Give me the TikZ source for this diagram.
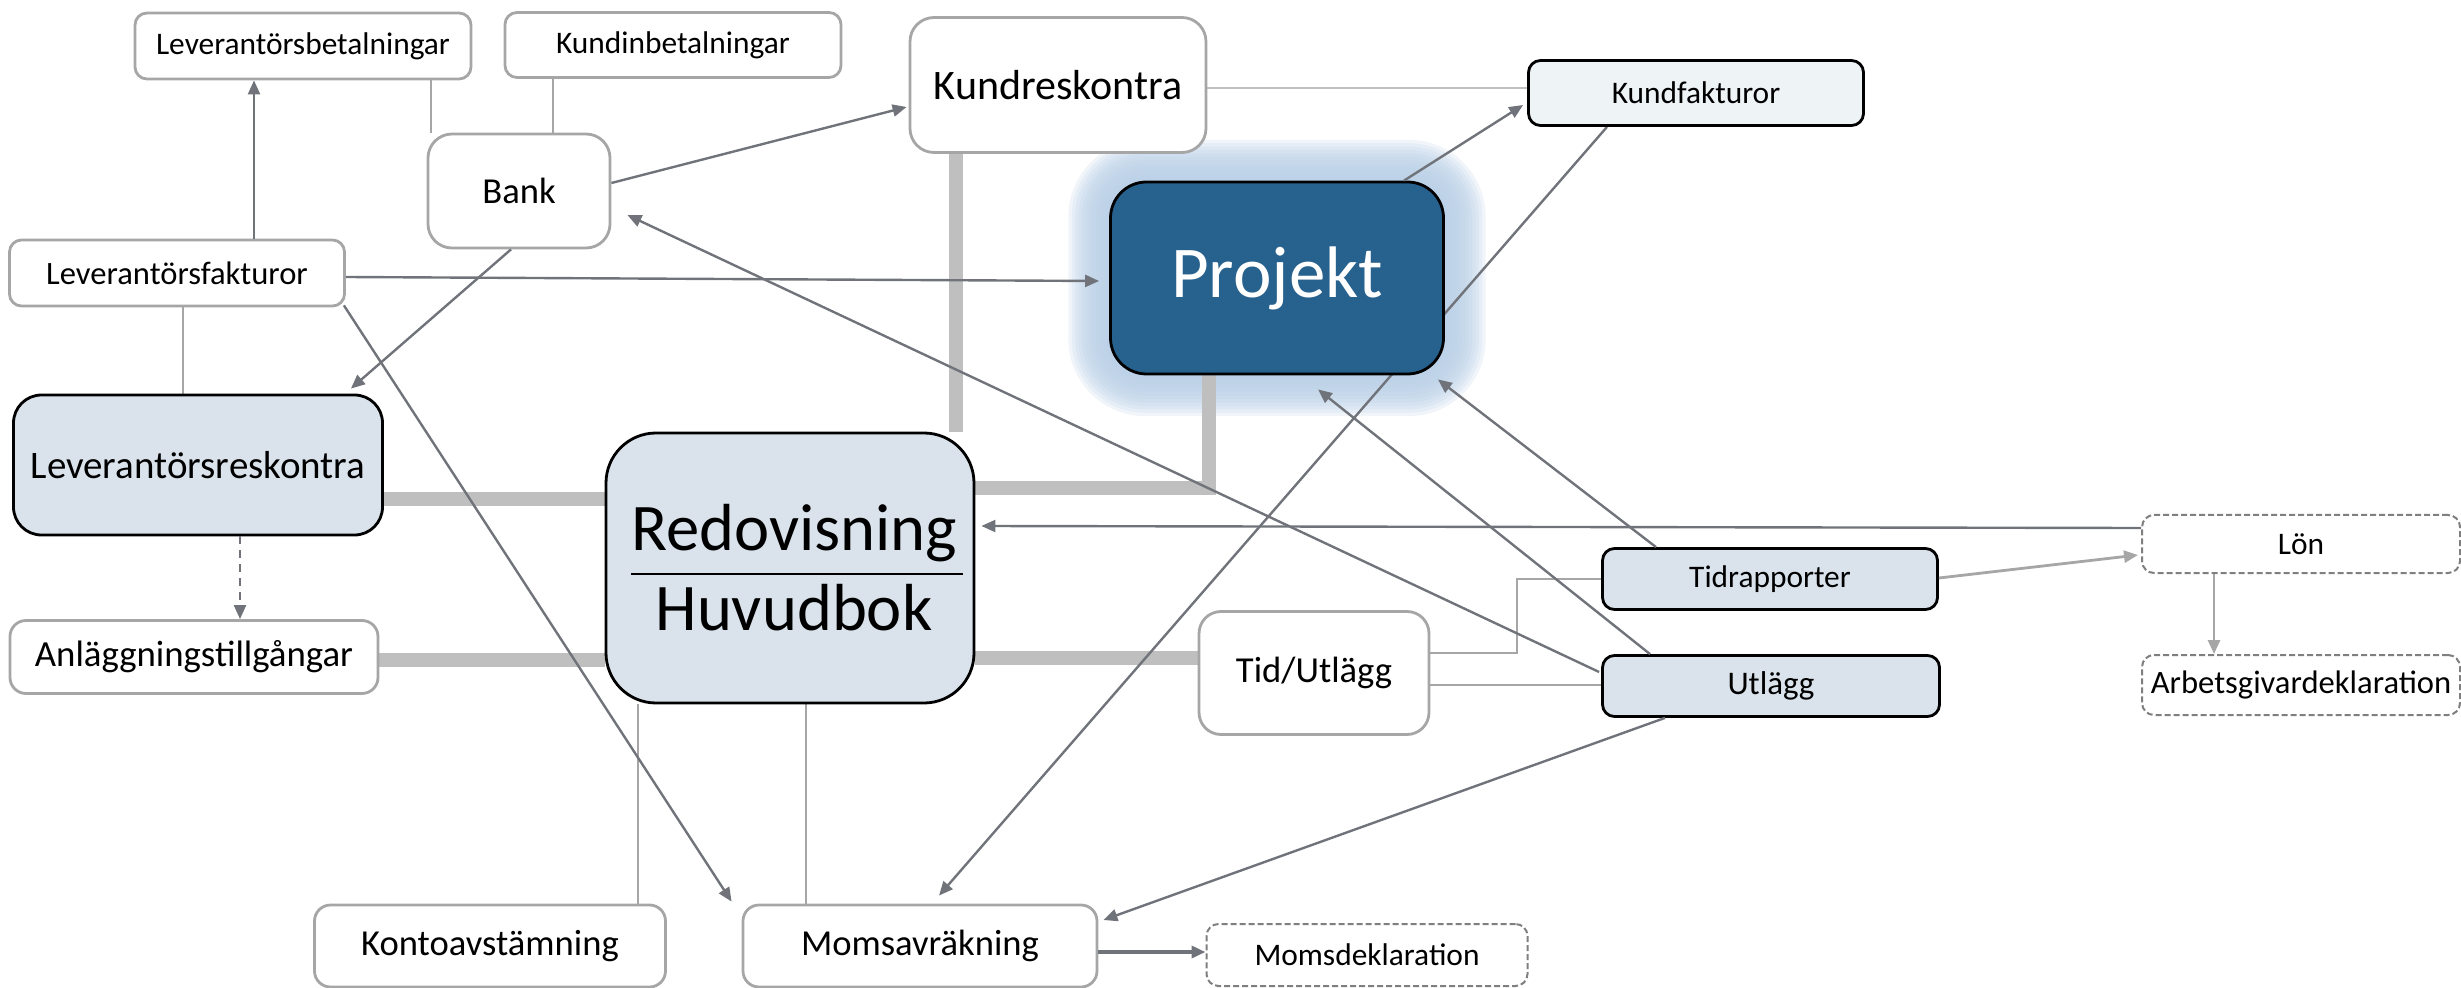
\documentclass[tikz,border=0pt]{standalone}
\usepackage{fontspec}
\setmainfont{Carlito}
\usetikzlibrary{arrows.meta,calc}
\definecolor{projblue}{RGB}{39,97,142}
\definecolor{lightbox}{RGB}{218,227,236}
\definecolor{palebox}{RGB}{238,243,246}
\definecolor{thickgray}{RGB}{191,191,191}
\definecolor{arrowgray}{RGB}{112,116,122}
\definecolor{bordergray}{RGB}{166,166,166}
\definecolor{paleline}{RGB}{192,192,192}
\definecolor{dashgray}{RGB}{127,127,127}
\definecolor{glowblue}{RGB}{184,206,230}
\pgfdeclarelayer{glow}
\pgfdeclarelayer{bg}
\pgfsetlayers{glow,bg,main}
\tikzset{
  box/.style={rectangle, rounded corners=#1, inner sep=0pt, align=center, line width=1.4pt},
  plainbox/.style={box=#1, draw=bordergray, fill=white},
  bluebox/.style={box=#1, draw=black, fill=lightbox},
  dashbox/.style={box=#1, draw=dashgray, dashed, dash pattern=on 3pt off 1.5pt, line width=1pt, fill=white},
  sz/.style 2 args={minimum width=#1, minimum height=#2},
  fsS/.style={font=\fontsize{15.7}{18}\selectfont},
  fsM/.style={font=\fontsize{18.3}{21}\selectfont},
  thickline/.style={draw=thickgray, line width=7pt},
  thinline/.style={draw=bordergray, line width=1pt},
  arr/.style={draw=arrowgray, line width=1.2pt, -{Triangle[length=7pt,width=6pt]}},
  lightarr/.style={draw=bordergray, line width=1.4pt, -{Triangle[length=7pt,width=6pt]}},
}
\begin{document}
\begin{tikzpicture}[x=0.5pt,y=-0.5pt]
\useasboundingbox (0,0) rectangle (2461,988);

% nodes
\node[plainbox=6pt, sz={168pt}{33pt}, fsS] (levbet) at (303,46) {Leverantörsbetalningar};
\node[plainbox=6pt, sz={168pt}{32.5pt}, fsS] (kundinb) at (673,45) {Kundinbetalningar};
\node[plainbox=12pt, sz={91pt}{57pt}, fsM] (bank) at (519,191) {Bank};
\node[plainbox=6pt, sz={167.5pt}{33pt}, font=\fontsize{16.3}{19}\selectfont] (levfakt) at (177,273) {Leverantörsfakturor};
\node[plainbox=12pt, sz={148pt}{67.5pt}, font=\fontsize{21}{24}\selectfont] (kundresk) at (1058,85) {Kundreskontra};
\node[box=6pt, draw=black, fill=palebox, sz={167.5pt}{32.5pt}, fsS] (kundfakt) at (1696,93) {Kundfakturor};
\node[box=18pt, draw=black, fill=projblue, text=white, sz={166.5pt}{96pt}, font=\fontsize{36.5}{40}\selectfont] (projekt) at (1277,278) {Projekt};
\node[bluebox=14pt, sz={184.5pt}{70pt}, font=\fontsize{19.5}{22}\selectfont] (levresk) at (198,465) {Leverantörsreskontra};
\node[plainbox=8pt, sz={184pt}{36.5pt}, font=\fontsize{18.4}{21}\selectfont] (anlagg) at (194,657) {Anläggningstillgångar};
\node[bluebox=25pt, sz={184pt}{135pt}] (redov) at (790,568) {};
\node[font=\fontsize{33.3}{36}\selectfont, anchor=base, inner sep=0pt] (redovT) at ($(redov.center)+(2pt,9pt)$) {Redovisning};
\node[font=\fontsize{33.3}{36}\selectfont, anchor=base, inner sep=0pt] (huvudT) at ($(redov.center)+(2pt,-31pt)$) {Huvudbok};
\draw[line width=0.8pt] ($(redov.center)+(-79.5pt,-3pt)$) -- ($(redov.center)+(86.5pt,-3pt)$);
\node[plainbox=11pt, sz={115pt}{61.5pt}, fsM] (tidutl) at (1314,673) {Tid/Utlägg};
\node[bluebox=6pt, sz={167.5pt}{30.5pt}, fsS] (tidrap) at (1770,579) {Tidrapporter};
\node[bluebox=6pt, sz={168.5pt}{30.5pt}, font=\fontsize{16.5}{19}\selectfont] (utlagg) at (1771,686) {Utlägg};
\node[dashbox=6pt, sz={159pt}{29pt}, fsS] (lon) at (2301,544) {Lön};
\node[dashbox=6pt, sz={159pt}{30pt}, font=\fontsize{16.3}{19}\selectfont] (arbets) at (2301,685) {Arbetsgivardeklaration};
\node[plainbox=8pt, sz={175.5pt}{41pt}, fsM] (konto) at (490,946) {Kontoavstämning};
\node[plainbox=8pt, sz={177pt}{41pt}, fsM] (moms) at (920,946) {Momsavräkning};
\node[dashbox=6pt, sz={160.5pt}{31pt}, fsS] (momsdek) at (1367,955) {Momsdeklaration};

% glow
\begin{pgfonlayer}{glow}
\foreach \i in {1,...,12} {
  \pgfmathsetmacro\rr{18+\i*1.7}
  \pgfmathsetmacro\dd{\i*1.7}
  \fill[glowblue, opacity=0.2, rounded corners=\rr pt] ($(projekt.south west)+(-\dd pt,-\dd pt)$) rectangle ($(projekt.north east)+(\dd pt,\dd pt)$);
}
\end{pgfonlayer}

% background connectors
\begin{pgfonlayer}{bg}
\coordinate (t1) at ($(levresk.east)+(0,-17pt)$);
\draw[thickline] (t1) -- (t1 -| redov.west);
\coordinate (t2) at ($(anlagg.east)+(0,-1.5pt)$);
\draw[thickline] (t2) -- (t2 -| redov.west);
\coordinate (t3) at ($(kundresk.south)+(-51pt,0)$);
\draw[thickline] (t3) -- (t3 |- redov.north);
\coordinate (t4) at ($(projekt.south)+(-34pt,0)$);
\coordinate (t4b) at ($(redov.east)+(0,40pt)$);
\draw[thickline] (t4) |- (t4b);
\coordinate (t5) at ($(redov.east)+(0,-45pt)$);
\draw[thickline] (t5) -- (t5 -| tidutl.west);

\coordinate (n1) at ($(levbet.south)+(64pt,0)$);
\draw[thinline] (n1) -- (n1 |- bank.north);
\coordinate (n2) at ($(kundinb.south)+(-60pt,0)$);
\draw[thinline] (n2) -- (n2 |- bank.north);
\coordinate (n3) at ($(levfakt.south)+(3pt,0)$);
\draw[thinline] (n3) -- (n3 |- levresk.north);
\coordinate (n4) at ($(kundresk.east)+(0,-1.5pt)$);
\draw[thinline, draw=paleline] (n4) -- (n4 -| kundfakt.west);
\coordinate (n5) at ($(redov.south)+(-76pt,0)$);
\draw[thinline] (n5) -- (n5 |- konto.north);
\coordinate (n6) at ($(redov.south)+(8pt,0)$);
\draw[thinline] (n6) -- (n6 |- moms.north);
\coordinate (n7) at ($(tidutl.east)+(0,10pt)$);
\draw[thinline] (n7) -- ++(43.5pt,0) |- (tidrap.west);
\coordinate (n8) at ($(tidutl.east)+(0,-6pt)$);
\draw[thinline] (n8) -- (n8 -| utlagg.west);

\coordinate (k1) at ($(kundfakt.south)+(-44.5pt,0)$);
\coordinate (k2) at ($(moms.north)+(9.5pt,4pt)$);
\draw[arr] (k1) -- (k2);
\end{pgfonlayer}

% arrows
\coordinate (a1) at ($(levfakt.north)+(38.5pt,0)$);
\draw[arr] (a1) -- (a1 |- levbet.south);
\draw[arr] ($(bank.east)+(0,4pt)$) -- ($(kundresk.west)+(-1pt,-11pt)$);
\draw[arr] ($(bank.south)+(-4pt,0)$) -- ($(levresk.north east)+(-16.5pt,2.5pt)$);
\draw[arr] ($(levfakt.east)+(0,-2pt)$) -- ($(projekt.west)+(-5pt,-1.5pt)$);
\draw[arr] ($(levfakt.south east)+(-1pt,1pt)$) -- ($(moms.north west)+(-5pt,1pt)$);
\draw[arr] ($(projekt.north)+(63.5pt,0)$) -- ($(kundfakt.west)+(-2pt,-6pt)$);
\draw[arr] ($(lon.west)+(0,8pt)$) -- ($(redov.east)+(3pt,21pt)$);
\draw[lightarr] ($(tidrap.east)+(0,0.5pt)$) -- ($(lon.west)+(-1.5pt,-5.5pt)$);
\coordinate (a2) at ($(lon.south)+(-43.5pt,0)$);
\draw[lightarr] (a2) -- (a2 |- arbets.north);
\draw[arr] ($(tidrap.north)+(-57pt,0)$) -- ($(projekt.south east)+(-3.5pt,-2pt)$);
\draw[arr] ($(utlagg.north)+(-60.5pt,0)$) -- ($(projekt.south)+(20.5pt,-7pt)$);
\draw[arr] ($(utlagg.west)+(-1pt,7pt)$) -- ($(bank.east)+(8pt,-12pt)$);
\draw[arr] ($(utlagg.south)+(-53pt,0)$) -- ($(moms.east)+(2.5pt,13pt)$);
\draw[arr, line width=2pt] ($(moms.east)+(0,-3pt)$) -- ($(momsdek.west)+(0,1.5pt)$);
\coordinate (a3) at ($(levresk.south)+(21pt,0)$);
\draw[arr, dashed, dash pattern=on 4pt off 3pt] (a3) -- (a3 |- anlagg.north);
\end{tikzpicture}
\end{document}
